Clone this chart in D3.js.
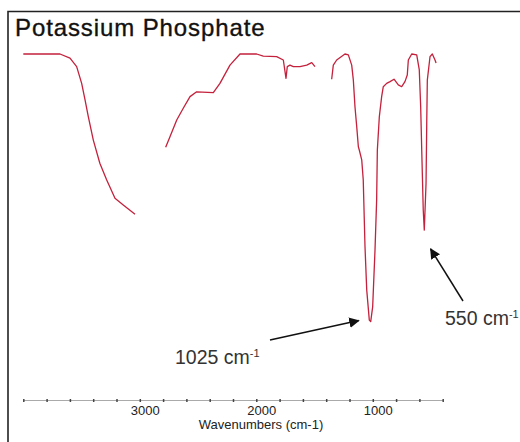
<!DOCTYPE html>
<html>
<head>
<meta charset="utf-8">
<script src="https://cdn.jsdelivr.net/npm/d3@7"></script>
<style>
html,body{margin:0;padding:0;background:#fff;}
svg{display:block;}
</style>
</head>
<body>
<svg id="chart" width="520" height="442"></svg>
<script>
// Wavenumber (cm-1) and transmittance (%); gaps are blanked regions
const segment1Wavenumbers = [4000, 3685, 3599, 3542, 3499, 3470, 3442, 3399, 3343, 3284, 3213, 3142, 3041];
const segment1Transmittance = [97, 97, 95.6, 92.8, 87.2, 81.7, 76.1, 68.3, 60.6, 55, 48.9, 46.7, 43.6];

const segment2Wavenumbers = [2778, 2741, 2683, 2627, 2569, 2512, 2369, 2312, 2226, 2140, 1997, 1940, 1825, 1768, 1745, 1734, 1711, 1682, 1625, 1567, 1524, 1496];
const segment2Transmittance = [65.9, 69.4, 75, 78.9, 82.8, 84.4, 84.1, 87.2, 93.3, 97, 97, 96.3, 96.1, 95, 88.9, 92.8, 93.3, 92.8, 92.8, 93.3, 94.1, 92.8];

const segment3Wavenumbers = [1353, 1339, 1310, 1239, 1210, 1181, 1167, 1153, 1138, 1124, 1116, 1095, 1082, 1067, 1052, 1030, 1018, 1001, 981, 967, 961, 944, 924, 910, 881, 852, 818, 781, 752, 724, 704, 695, 666, 623, 601, 589, 580, 567, 558, 543, 537, 532, 509, 489, 466, 457];
const segment3Transmittance = [88.6, 93.3, 95, 97, 96.7, 93.3, 88.3, 79.4, 72.8, 66.1, 65, 61.7, 55, 32.8, 18.3, 8.3, 7.8, 12.8, 31.7, 48.3, 65, 76.1, 82.8, 86.1, 87.2, 87.8, 88.6, 86.7, 86.1, 87.8, 90, 95, 97, 96.7, 91.7, 79.4, 65, 45, 38.3, 53.9, 73.9, 88.3, 96.1, 97, 95, 94];

const tickValues = [4000, 3800, 3600, 3400, 3200, 3000, 2800, 2600, 2400, 2200, 2000, 1800, 1600, 1400, 1200, 1000, 800, 600, 400];
const tickLabels = {3000: "3000", 2000: "2000", 1000: "1000"};

const titleText = "Potassium Phosphate";
const xAxisTitle = "Wavenumbers (cm-1)";
const annotations = [
  {label: "1025 cm", sup: "-1", peakW: 1018, peakT: 7.8},
  {label: "550 cm", sup: "-1", peakW: 555, peakT: 36}
];

const svg = d3.select("#chart");
const x = d3.scaleLinear().domain([4000, 400]).range([23.3, 442.7]);
const y = d3.scaleLinear().domain([0, 100]).range([345, 45]);

// frame
svg.append("path")
  .attr("d", "M8,450 L8,11.5 L530,11.5")
  .attr("fill", "none").attr("stroke", "#222").attr("stroke-width", 1.6);

// title
svg.append("text").attr("x", 15).attr("y", 36)
  .attr("font-family", "Liberation Sans, Arial, sans-serif")
  .attr("font-size", 24).attr("letter-spacing", 0.9)
  .attr("fill", "#111").attr("stroke", "#111").attr("stroke-width", 0.35)
  .text(titleText);

// spectrum
const line = d3.line().x(d => x(d[0])).y(d => y(d[1]));
const segments = [
  d3.zip(segment1Wavenumbers, segment1Transmittance),
  d3.zip(segment2Wavenumbers, segment2Transmittance),
  d3.zip(segment3Wavenumbers, segment3Transmittance)
];
svg.selectAll("path.spec").data(segments).join("path")
  .attr("class", "spec")
  .attr("d", line)
  .attr("fill", "none")
  .attr("stroke", "#c4213c")
  .attr("stroke-width", 1.3)
  .attr("stroke-linejoin", "round");

// x axis
const axis = d3.axisBottom(x).tickValues(tickValues).tickSize(2).tickSizeOuter(0)
  .tickFormat(d => tickLabels[d] || "");
const gAxis = svg.append("g").attr("transform", "translate(0,400)").call(axis);
gAxis.select(".domain").attr("stroke", "#aaa").attr("stroke-width", 1);
gAxis.selectAll(".tick line").attr("stroke", "#444").attr("stroke-width", 1.5).attr("y1", -1);
gAxis.selectAll(".tick text")
  .attr("font-family", "Liberation Sans, Arial, sans-serif")
  .attr("font-size", 13).attr("fill", "#222")
  .attr("dx", 5).attr("y", 6);

svg.append("text").attr("x", 261).attr("y", 429).attr("text-anchor", "middle")
  .attr("font-family", "Liberation Sans, Arial, sans-serif")
  .attr("font-size", 13).attr("fill", "#222").text(xAxisTitle);

// annotations
const defs = svg.append("defs");
defs.append("marker").attr("id", "ah").attr("viewBox", "0 0 10 10")
  .attr("refX", 9).attr("refY", 5).attr("markerWidth", 7).attr("markerHeight", 7)
  .attr("markerUnits", "strokeWidth").attr("orient", "auto")
  .append("path").attr("d", "M0,0 L10,5 L0,10 z").attr("fill", "#111");

const annLayout = [
  {tx: 175, ty: 364, ax: 270, ay: 340, dx: -12, dy: -1},
  {tx: 445, ty: 325, ax: 463, ay: 301, dx: 6, dy: 12}
];
annotations.forEach((a, i) => {
  const L = annLayout[i];
  const px = x(a.peakW) + L.dx, py = y(a.peakT) + L.dy;
  svg.append("line").attr("x1", L.ax).attr("y1", L.ay).attr("x2", px).attr("y2", py)
    .attr("stroke", "#111").attr("stroke-width", 1.5).attr("marker-end", "url(#ah)");
  const t = svg.append("text").attr("x", L.tx).attr("y", L.ty)
    .attr("font-family", "Liberation Sans, Arial, sans-serif")
    .attr("font-size", 19.5).attr("fill", "#333");
  t.append("tspan").text(a.label);
  t.append("tspan").attr("dy", -7).attr("font-size", 11).text(a.sup);
});
</script>
</body>
</html>
